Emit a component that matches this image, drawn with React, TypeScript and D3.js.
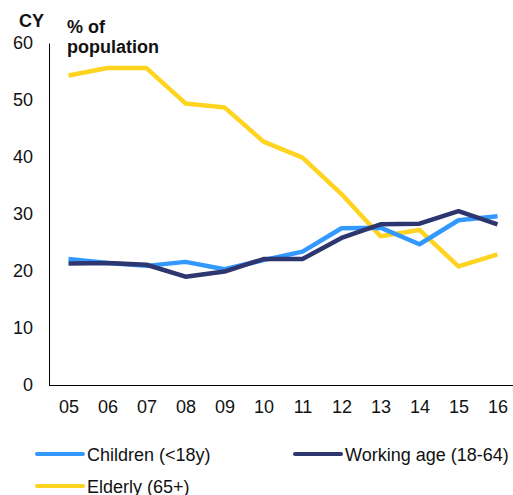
import React, { useRef, useEffect } from 'react';
import * as d3 from 'd3';

const years = ['05', '06', '07', '08', '09', '10', '11', '12', '13', '14', '15', '16'];
const children = [22.1, 21.4, 20.9, 21.6, 20.3, 21.9, 23.4, 27.5, 27.6, 24.7, 28.9, 29.6];
const workingAge = [21.3, 21.4, 21.1, 19.0, 19.9, 22.1, 22.1, 25.8, 28.2, 28.3, 30.5, 28.2];
const elderly = [54.3, 55.6, 55.6, 49.4, 48.7, 42.7, 39.9, 33.5, 26.1, 27.2, 20.8, 22.9];
const yTicks = [0, 10, 20, 30, 40, 50, 60];

const series = [
  { name: 'Children (<18y)', values: children, color: '#3399ff' },
  { name: 'Working age (18-64)', values: workingAge, color: '#2e3670' },
  { name: 'Elderly (65+)', values: elderly, color: '#ffd420' }
];

const App = () => {
  const ref = useRef<SVGSVGElement | null>(null);

  useEffect(() => {
    if (!ref.current) return;
    const svg = d3.select(ref.current);
    svg.selectAll('*').remove();

    const font = 'Liberation Sans, Arial, sans-serif';
    const fs = '18px';
    const left = 49, right = 513, top = 43, bottom = 385;

    const x = d3.scalePoint<string>().domain(years).range([left, 517]).padding(0.5);
    const y = d3.scaleLinear().domain([0, 60]).range([bottom, top]);

    // y axis
    const yAxis = svg.append('g')
      .attr('transform', `translate(${left},0)`)
      .call(d3.axisLeft(y).tickValues(yTicks).tickSize(0).tickSizeOuter(0).tickPadding(16).tickFormat(d3.format('d')));
    yAxis.select('.domain').attr('stroke', '#000').attr('stroke-width', 1);
    yAxis.selectAll('text').attr('font-family', font).attr('font-size', fs).attr('fill', '#111');

    // x axis
    const xAxis = svg.append('g')
      .attr('transform', `translate(0,${bottom})`)
      .call(d3.axisBottom(x).tickSize(0).tickSizeOuter(0).tickPadding(15));
    xAxis.select('.domain').attr('d', `M${left},0.5H${right}`).attr('stroke', '#000').attr('stroke-width', 1);
    xAxis.selectAll('text').attr('font-family', font).attr('font-size', fs).attr('fill', '#111');

    // titles
    svg.append('text').attr('x', 19).attr('y', 27).attr('font-family', font)
      .attr('font-size', fs).attr('font-weight', 'bold').attr('fill', '#111').text('CY');
    svg.append('text').attr('x', 67).attr('y', 33).attr('font-family', font)
      .attr('font-size', fs).attr('font-weight', 'bold').attr('fill', '#111').text('% of');
    svg.append('text').attr('x', 67).attr('y', 53).attr('font-family', font)
      .attr('font-size', fs).attr('font-weight', 'bold').attr('fill', '#111').text('population');

    // lines
    const line = d3.line<number>()
      .x((_, i) => x(years[i]) as number)
      .y(d => y(d));

    [series[2], series[0], series[1]].forEach(s => {
      svg.append('path')
        .datum(s.values)
        .attr('fill', 'none')
        .attr('stroke', s.color)
        .attr('stroke-width', 4.5)
        .attr('stroke-linejoin', 'round')
        .attr('d', line);
    });

    // legend
    const legendPos = [
      { x: 37, y: 454 },
      { x: 295, y: 454 },
      { x: 37, y: 486 }
    ];
    series.forEach((s, i) => {
      const g = svg.append('g').attr('transform', `translate(${legendPos[i].x},${legendPos[i].y})`);
      g.append('line')
        .attr('x1', 0).attr('x2', 46).attr('y1', 0).attr('y2', 0)
        .attr('stroke', s.color).attr('stroke-width', 4).attr('stroke-linecap', 'round');
      g.append('text')
        .attr('x', 50).attr('y', 6.5)
        .attr('font-family', font).attr('font-size', fs).attr('fill', '#111')
        .text(s.name);
    });
  }, []);

  return (
    <svg
      ref={ref}
      width={513}
      height={495}
      style={{ position: 'absolute', left: 0, top: 0, background: '#fff' }}
    />
  );
};

export default App;
